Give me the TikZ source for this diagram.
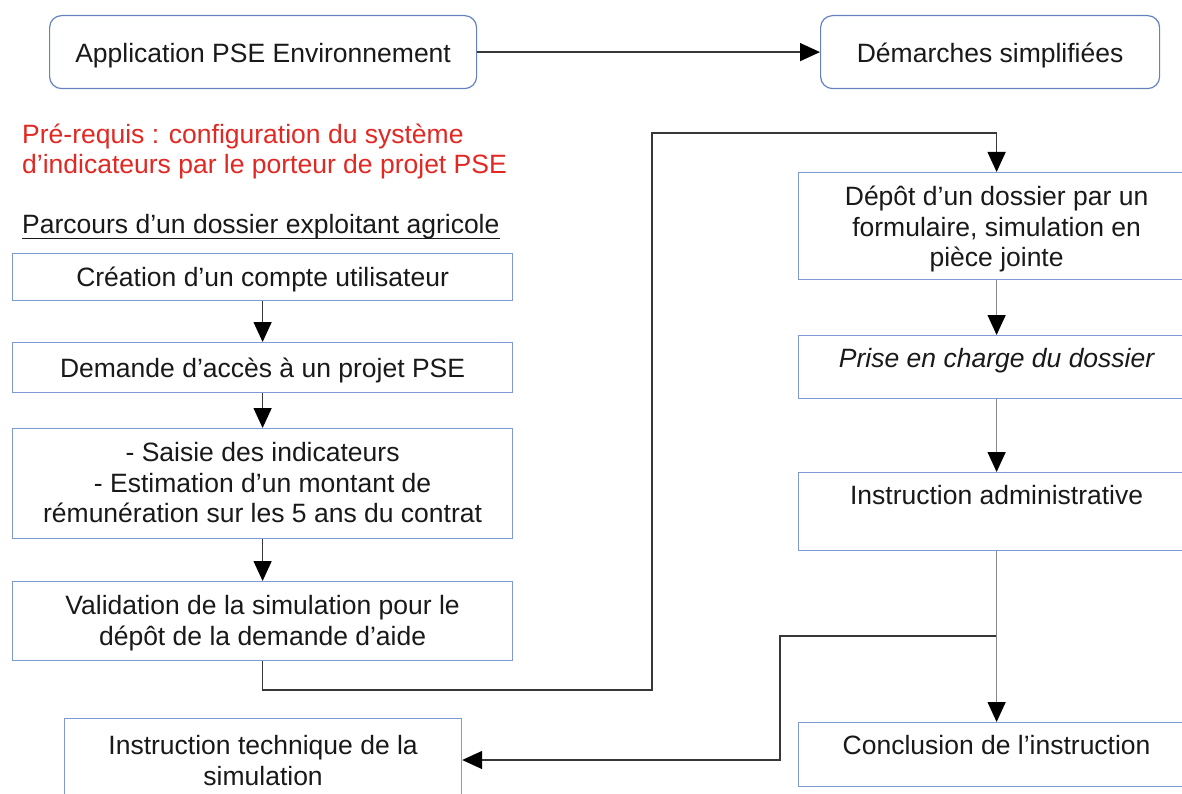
\documentclass[tikz,border=0pt]{standalone}
\usepackage{fontspec}
\setmainfont{Liberation Sans}
\usetikzlibrary{arrows.meta}
\definecolor{boxblue}{RGB}{125,155,210}
\definecolor{rbox}{RGB}{100,130,190}
\definecolor{redtxt}{RGB}{225,40,35}
\definecolor{darkline}{RGB}{55,55,55}
\definecolor{lightline}{RGB}{135,135,135}
\definecolor{txt}{RGB}{25,25,25}
\begin{document}
\begin{tikzpicture}[x=1pt,y=-1pt,
  every node/.style={font=\fontsize{26.5}{30.5}\selectfont, text=txt},
  flowbox/.style={draw=boxblue, line width=1.2pt, fill=white, anchor=north west,
    inner xsep=0pt, inner ysep=0pt, minimum height=0pt, align=center},
  termbox/.style={flowbox, draw=rbox, rounded corners=12pt},
  conn/.style={draw=darkline, line width=1.5pt},
  connlight/.style={draw=lightline, line width=1.5pt},
  tip/.style={-{Triangle[length=20pt,width=18pt,color=black]}},
  plain/.style={inner sep=0pt, anchor=north west, align=left},
]
\useasboundingbox (0,0) rectangle (1182,794);
\clip (0,0) rectangle (1182,794);
\fill[white] (0,0) rectangle (1182,794);

% top boxes
\node[termbox, minimum width=427pt, text height=46.5pt, text depth=26.5pt] (app) at (49,15) {Application PSE Environnement};
\node[termbox, minimum width=339pt, text height=46.5pt, text depth=26.5pt] (dem) at (820,15) {Démarches simplifiées};

% texts
\node[plain, text=redtxt, text height=50.5pt] (req) at (22,123) {Pré-requis : configuration du système\\d’indicateurs par le porteur de projet PSE};
\node[plain, text height=20pt] (par) at (22,213) {Parcours d’un dossier exploitant agricole};
\draw[line width=1.4pt, draw=txt] ([yshift=-5.5pt]par.base west) -- ([yshift=-5.5pt]par.base east);

% left column
\node[flowbox, minimum width=500pt, text height=33pt, text depth=14pt] (b1) at (12,253) {Création d’un compte utilisateur};
\node[flowbox, minimum width=500pt, text height=34.5pt, text depth=15.5pt] (b2) at (12,342) {Demande d’accès à un projet PSE};
\node[flowbox, minimum width=500pt, text height=94pt, text depth=16pt] (b3) at (12,428) {- Saisie des indicateurs\\- Estimation d’un montant de\\rémunération sur les 5 ans du contrat};
\node[flowbox, minimum width=500pt, text height=63.5pt, text depth=15.5pt] (b4) at (12,581) {Validation de la simulation pour le\\dépôt de la demande d’aide};
\node[flowbox, minimum width=397pt, text height=66.5pt, text depth=29.5pt] (tech) at (64,718) {Instruction technique de la\\simulation};

% right column
\node[flowbox, minimum width=396pt, text height=94pt, text depth=13pt] (dep) at (798,172) {Dépôt d’un dossier par un\\formulaire, simulation en\\pièce jointe};
\node[flowbox, minimum width=396pt, text height=32pt, text depth=31pt] (pri) at (798,335) {\itshape Prise en charge du dossier};
\node[flowbox, minimum width=396pt, text height=32pt, text depth=46pt] (adm) at (798,472) {Instruction administrative};
\node[flowbox, minimum width=396pt, text height=32pt, text depth=32pt] (con) at (798,722) {Conclusion de l’instruction};

% connectors
\draw[conn, tip] (app.east) -- (dem.west);
\draw[conn, tip] (b1.south) -- (b2.north);
\draw[conn, tip] (b2.south) -- (b3.north);
\draw[conn, tip] (b3.south) -- (b4.north);

\coordinate (c1) at (652,690);
\coordinate (c2) at (652,133);
\draw[conn, tip] (b4.south) |- (c1) -- (c2) -| (dep.north);

\draw[connlight, tip] (dep.south) -- (pri.north);
\draw[connlight, tip] (pri.south) -- (adm.north);
\draw[connlight, tip] (adm.south) -- (con.north);

\coordinate (br) at (996,636);
\coordinate (c4) at (780,760);
\draw[conn, tip] (br) -| (c4) -- (c4 -| tech.east);
\end{tikzpicture}
\end{document}
